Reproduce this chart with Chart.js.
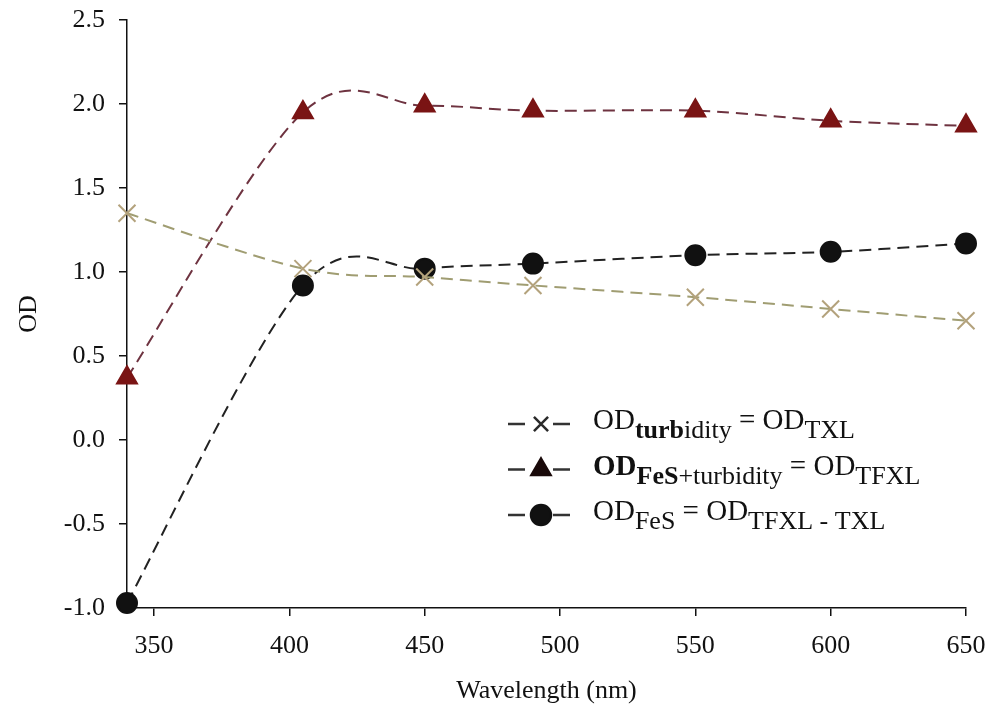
<!DOCTYPE html>
<html>
<head>
<meta charset="utf-8">
<script src="https://cdn.jsdelivr.net/npm/chart.js@4/dist/chart.umd.min.js"></script>
<style>
	html, body { margin: 0; padding: 0; background: #fff; }
</style>
</head>
<body>
<canvas id="grafico" width="992" height="715"></canvas>
<script>
// valores
const comprimentos = [340, 405, 450, 490, 550, 600, 650];
const odTurbidez = [1.35, 1.02, 0.97, 0.92, 0.85, 0.78, 0.71];
const odFesTurbidez = [0.37, 1.95, 1.99, 1.96, 1.96, 1.90, 1.87];
const odFes = [-0.97, 0.92, 1.02, 1.05, 1.10, 1.12, 1.17];
const xTicks = [350, 400, 450, 500, 550, 600, 650];

const FONTE = "'Liberation Serif', 'Times New Roman', serif";

const legendaLinhas = [
	[
		{ t: "OD" },
		{ t: "turb", sub: true, bold: true },
		{ t: "idity", sub: true },
		{ t: " = OD" },
		{ t: "TXL", sub: true },
	],
	[
		{ t: "OD", bold: true },
		{ t: "FeS", sub: true, bold: true },
		{ t: "+turbidity", sub: true },
		{ t: " = OD" },
		{ t: "TFXL", sub: true },
	],
	[
		{ t: "OD" },
		{ t: "FeS", sub: true },
		{ t: " = OD" },
		{ t: "TFXL - TXL", sub: true },
	],
];
const legendaMarcas = [
	{ pointStyle: "crossRot", radius: 10, cor: "#2a2a2a" },
	{ pointStyle: "triangle", radius: 11, cor: "#1a0a0a" },
	{ pointStyle: "circle", radius: 10, cor: "#111" },
];

// suavização no estilo do Excel (Catmull-Rom), a partir das posições já calculadas pelas escalas
const suavizaPlugin = {
	id: "suaviza",
	beforeDatasetsDraw(chart) {
		chart.data.datasets.forEach((ds, i) => {
			const meta = chart.getDatasetMeta(i);
			meta.dataset.updateControlPoints(chart.chartArea);
			const pts = meta.data;
			pts.forEach((p, j) => {
				const ant = pts[j - 1] || p;
				const prox = pts[j + 1] || p;
				const dx = (prox.x - ant.x) / 6;
				const dy = (prox.y - ant.y) / 6;
				p.cp1x = p.x - dx;
				p.cp1y = p.y - dy;
				p.cp2x = p.x + dx;
				p.cp2y = p.y + dy;
			});
		});
	},
};

const legendaPlugin = {
	id: "legendaSub",
	afterDraw(chart) {
		const ctx = chart.ctx;
		const area = chart.chartArea;
		const x0 = area.right - 458;
		const yBase = area.bottom - 184;
		ctx.save();
		legendaLinhas.forEach((linha, i) => {
			const yc = yBase + i * 45.5;
			const marca = legendaMarcas[i];
			// traços da legenda
			ctx.strokeStyle = "#333";
			ctx.lineWidth = 2.5;
			ctx.setLineDash([]);
			ctx.beginPath();
			ctx.moveTo(x0, yc);
			ctx.lineTo(x0 + 17, yc);
			ctx.moveTo(x0 + 45, yc);
			ctx.lineTo(x0 + 62, yc);
			ctx.stroke();
			ctx.fillStyle = marca.cor;
			ctx.strokeStyle = marca.cor;
			Chart.helpers.drawPoint(
				ctx,
				{ pointStyle: marca.pointStyle, radius: marca.radius, borderWidth: 2, rotation: 0 },
				x0 + 33,
				yc
			);
			// texto com subscritos
			let x = x0 + 85;
			ctx.fillStyle = "#111";
			ctx.textBaseline = "alphabetic";
			ctx.textAlign = "left";
			linha.forEach((seg) => {
				const tam = seg.sub ? 26 : 29;
				ctx.font = (seg.bold ? "bold " : "") + tam + "px " + FONTE;
				ctx.fillText(seg.t, x, yc + 5 + (seg.sub ? 9 : 0));
				x += ctx.measureText(seg.t).width;
			});
		});
		ctx.restore();
	},
};

Chart.defaults.font.family = FONTE;
Chart.defaults.color = "#111";

const grafico = new Chart(document.querySelector("#grafico"), {
	type: "line",
	data: {
		datasets: [
			{
				label: "OD turbidity = OD TXL",
				data: comprimentos.map((c, i) => ({ x: c, y: odTurbidez[i] })),
				borderColor: "#a09d72",
				borderWidth: 2,
				borderDash: [12, 7],
				pointStyle: "crossRot",
				pointRadius: 12,
				pointBorderColor: "#b3a27c",
				pointBorderWidth: 2,
				tension: 0.4,
				clip: false,
			},
			{
				label: "OD FeS+turbidity = OD TFXL",
				data: comprimentos.map((c, i) => ({ x: c, y: odFesTurbidez[i] })),
				borderColor: "#6e3340",
				borderWidth: 2,
				borderDash: [12, 7],
				pointStyle: "triangle",
				pointRadius: 11.5,
				pointBackgroundColor: "#7a1414",
				pointBorderColor: "#7a1414",
				tension: 0.4,
				clip: false,
			},
			{
				label: "OD FeS = OD TFXL - TXL",
				data: comprimentos.map((c, i) => ({ x: c, y: odFes[i] })),
				borderColor: "#222",
				borderWidth: 2,
				borderDash: [12, 7],
				pointStyle: "circle",
				pointRadius: 10,
				pointBackgroundColor: "#111",
				pointBorderColor: "#111",
				tension: 0.4,
				clip: false,
			},
		],
	},
	options: {
		responsive: false,
		animation: false,
		layout: { padding: { top: 20, right: 26, bottom: 4, left: 10 } },
		plugins: {
			legend: { display: false },
			tooltip: { enabled: false },
		},
		scales: {
			x: {
				type: "linear",
				min: 340,
				max: 650,
				afterBuildTicks: (axis) => {
					axis.ticks = xTicks.map((v) => ({ value: v }));
				},
				afterFit: (scale) => {
					scale.height = 103;
					scale.paddingLeft = 0;
					scale.paddingRight = 0;
				},
				grid: { drawOnChartArea: false, tickLength: 8, color: "#111", lineWidth: 1.5 },
				border: { color: "#111", width: 1.5 },
				ticks: { font: { size: 26 }, padding: 15, maxRotation: 0 },
				title: { display: true, text: "Wavelength (nm)", font: { size: 26 } },
			},
			y: {
				min: -1,
				max: 2.5,
				afterFit: (scale) => {
					scale.width = 117;
					scale.paddingTop = 0;
					scale.paddingBottom = 0;
				},
				grid: { drawOnChartArea: false, tickLength: 8, color: "#111", lineWidth: 1.5 },
				border: { color: "#111", width: 1.5 },
				ticks: {
					stepSize: 0.5,
					font: { size: 26 },
					padding: 14,
					callback: (v) => v.toFixed(1),
				},
				title: { display: true, text: "OD", font: { size: 26 } },
			},
		},
	},
	plugins: [suavizaPlugin, legendaPlugin],
});
</script>
</body>
</html>
